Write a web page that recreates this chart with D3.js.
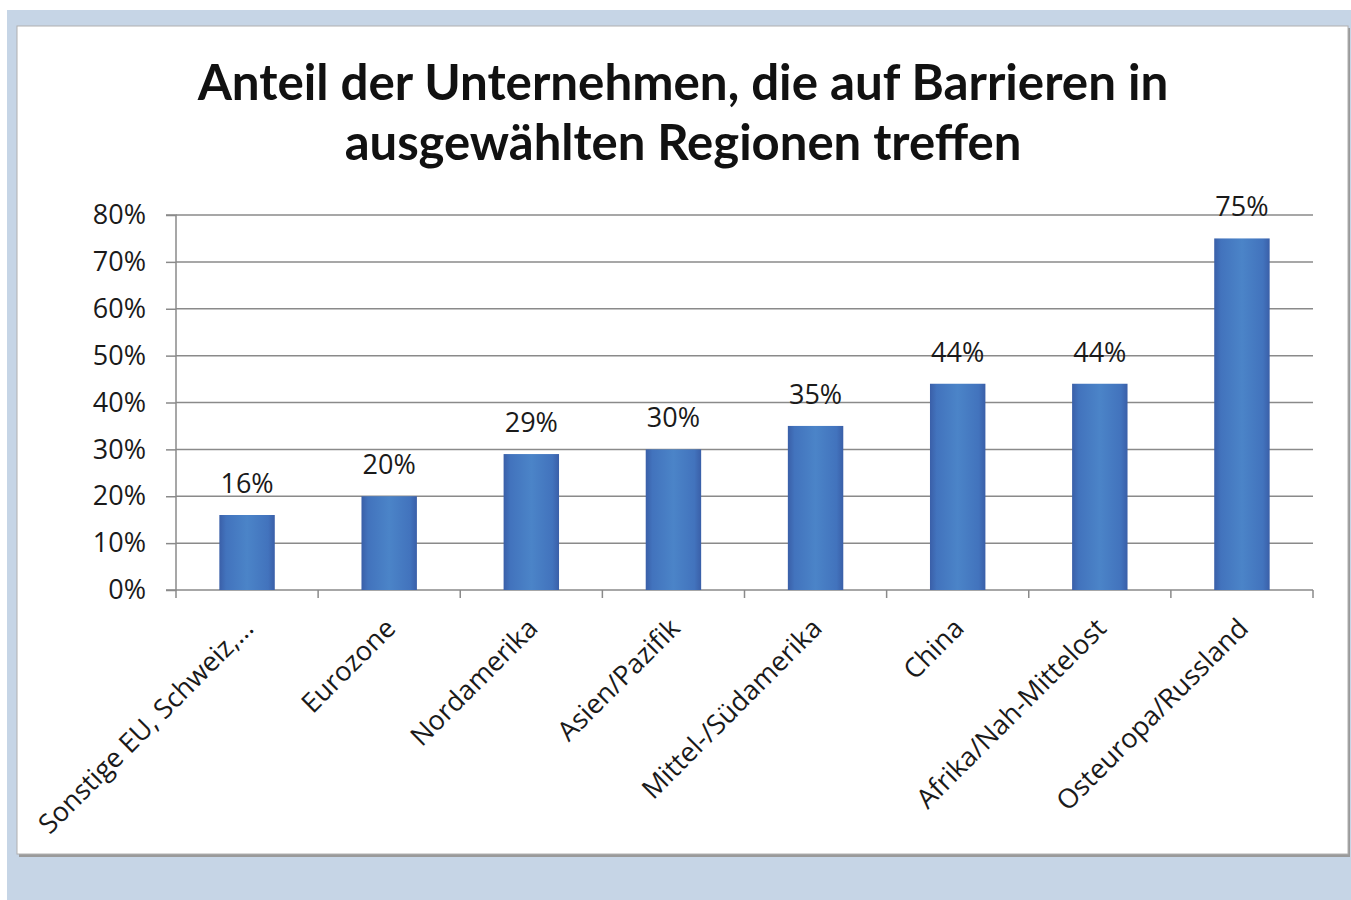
<!DOCTYPE html>
<html>
<head>
<meta charset="utf-8">
<script src="https://cdn.jsdelivr.net/npm/d3@7"></script>
<style>
  html, body { margin: 0; padding: 0; background: #ffffff; }
  svg { display: block; }
</style>
</head>
<body>
<svg id="chart" width="1351" height="900"></svg>
<script>
const categories = ["Sonstige EU, Schweiz,\u2026", "Eurozone", "Nordamerika", "Asien/Pazifik", "Mittel-/Südamerika", "China", "Afrika/Nah-Mittelost", "Osteuropa/Russland"];
const values = [16, 20, 29, 30, 35, 44, 44, 75];
const yTicks = [0, 10, 20, 30, 40, 50, 60, 70, 80];
const titleLines = ["Anteil der Unternehmen, die auf Barrieren in", "ausgewählten Regionen treffen"];

const svg = d3.select("#chart");
const font = "'Open Sans', 'Liberation Sans', sans-serif";

// background
svg.append("rect").attr("x", 7).attr("y", 10).attr("width", 1344).attr("height", 890).attr("fill", "#c6d5e6");
// chart frame shadow + white area
svg.append("rect").attr("x", 19).attr("y", 28).attr("width", 1331).attr("height", 829).attr("fill", "#9a9a9a");
svg.append("rect").attr("x", 17).attr("y", 26).attr("width", 1331).attr("height", 828).attr("fill", "#ffffff").attr("stroke", "#b0b0b0").attr("stroke-width", 1);

const x0 = 176, x1 = 1313, yBase = 590, yTop = 215;
const x = d3.scaleBand().domain(categories).range([x0, x1]).padding(0);
const y = d3.scaleLinear().domain([0, 80]).range([yBase, yTop]);

// gradient
const defs = svg.append("defs");
const grad = defs.append("linearGradient").attr("id", "barGrad").attr("x1", "0%").attr("x2", "100%").attr("y1", "0%").attr("y2", "0%");
grad.append("stop").attr("offset", "0%").attr("stop-color", "#3a5fa8");
grad.append("stop").attr("offset", "12%").attr("stop-color", "#4273bd");
grad.append("stop").attr("offset", "50%").attr("stop-color", "#4b84c8");
grad.append("stop").attr("offset", "88%").attr("stop-color", "#4273bd");
grad.append("stop").attr("offset", "100%").attr("stop-color", "#3a5fa8");

// gridlines
svg.append("g").selectAll("line").data(yTicks.filter(d => d > 0)).join("line")
  .attr("x1", x0).attr("x2", x1)
  .attr("y1", d => y(d)).attr("y2", d => y(d))
  .attr("stroke", "#8a8a8a").attr("stroke-width", 1.5);

// y axis
const yAxis = d3.axisLeft(y).tickValues(yTicks).tickFormat(d => d + "%").tickSize(10).tickPadding(20);
const gy = svg.append("g").attr("transform", `translate(${x0},0)`).call(yAxis);
gy.select(".domain").attr("stroke", "#8a8a8a").attr("stroke-width", 1.5).attr("d", `M-10,${yTop}H0V${yBase}H-10`);
gy.selectAll(".tick line").attr("stroke", "#8a8a8a").attr("stroke-width", 1.5);
gy.selectAll(".tick text").attr("font-family", font).attr("font-size", 27).attr("fill", "#1a1a1a");

// x axis line and ticks at boundaries
const bounds = categories.map(c => x(c)).concat([x1]);
svg.append("line").attr("x1", x0).attr("x2", x1).attr("y1", yBase).attr("y2", yBase).attr("stroke", "#8a8a8a").attr("stroke-width", 1.5);
svg.append("g").selectAll("line").data(bounds).join("line")
  .attr("x1", d => d).attr("x2", d => d).attr("y1", yBase).attr("y2", yBase + 8)
  .attr("stroke", "#8a8a8a").attr("stroke-width", 1.5);

// bars
const bw = x.bandwidth() * 0.39;
svg.append("g").selectAll("rect").data(values).join("rect")
  .attr("x", (d, i) => x(categories[i]) + x.bandwidth() / 2 - bw / 2)
  .attr("y", d => y(d))
  .attr("width", bw)
  .attr("height", d => yBase - y(d))
  .attr("fill", "url(#barGrad)");

// value labels
svg.append("g").selectAll("text").data(values).join("text")
  .attr("x", (d, i) => x(categories[i]) + x.bandwidth() / 2)
  .attr("y", d => y(d) - 22)
  .attr("text-anchor", "middle")
  .attr("font-family", font).attr("font-size", 27).attr("fill", "#1a1a1a")
  .text(d => d + "%");

// category labels
svg.append("g").selectAll("text").data(categories).join("text")
  .attr("transform", d => `translate(${x(d) + x.bandwidth() / 2 + 8},${630}) rotate(-45)`)
  .attr("text-anchor", "end")
  .attr("font-family", font).attr("font-size", 27).attr("fill", "#1a1a1a")
  .text(d => d);

// title
const titleSpecs = [{ y: 100, w: 971 }, { y: 160, w: 677 }];
titleLines.forEach((t, i) => {
  const el = svg.append("text")
    .attr("x", 683).attr("y", titleSpecs[i].y)
    .attr("text-anchor", "middle")
    .attr("font-family", "Lato, 'Open Sans', sans-serif").attr("font-weight", "bold")
    .attr("font-size", 46).attr("fill", "#111111")
    .text(t);
  const len = el.node().getComputedTextLength();
  el.attr("font-size", 46 * titleSpecs[i].w / len);
});
</script>
</body>
</html>
